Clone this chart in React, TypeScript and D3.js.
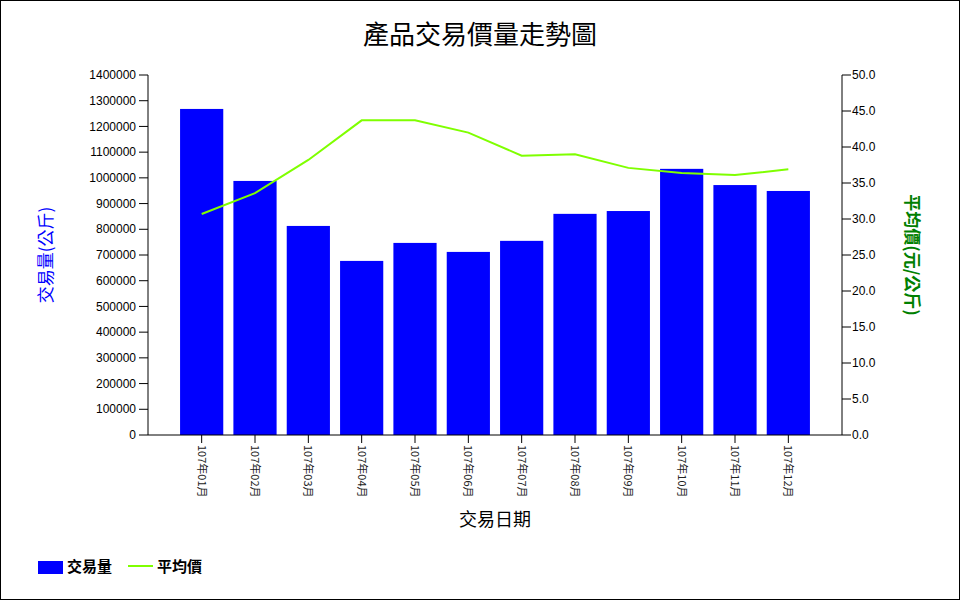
import React from "react";
import * as d3 from "d3";

const months = ["107年01月","107年02月","107年03月","107年04月","107年05月","107年06月","107年07月","107年08月","107年09月","107年10月","107年11月","107年12月"];
const volumes = [1268000, 988000, 813000, 677000, 747000, 712000, 755000, 860000, 871000, 1035000, 972000, 949000];
const prices = [30.7, 33.6, 38.2, 43.7, 43.7, 42.0, 38.8, 39.0, 37.1, 36.4, 36.1, 36.9];
const leftTicks = d3.range(0, 1400001, 100000);
const rightTicks = d3.range(0, 50.01, 5);

const W = 960, H = 600;
const X0 = 148, X1 = 842, Y0 = 435, Y1 = 75;
const FONT = "Arial, 'Liberation Sans', 'Noto Sans CJK TC', sans-serif";
const CJK = "'Noto Sans CJK TC', sans-serif";

export default function App() {
  const x = d3.scaleBand<string>().domain(months).range([X0 + 27, X1 - 27]).paddingInner(0.19).paddingOuter(0.095);
  const yL = d3.scaleLinear().domain([0, 1400000]).range([Y0, Y1]);
  const yR = d3.scaleLinear().domain([0, 50]).range([Y0, Y1]);
  const cx = (m: string) => (x(m) as number) + x.bandwidth() / 2;
  const line = d3.line<number>().x((_, i) => cx(months[i])).y((d) => yR(d));

  return (
    <div style={{ position: "fixed", left: 0, top: 0 }}>
      <svg width={W} height={H} style={{ display: "block", background: "#fff" }}>
        <rect x={0.5} y={0.5} width={W - 1} height={H - 1} fill="#fff" stroke="#000" />
        <text x={480} y={44} textAnchor="middle" fontFamily={CJK} fontSize={26} fill="#000">產品交易價量走勢圖</text>

        {months.map((m, i) => (
          <rect key={m} x={x(m)} y={yL(volumes[i])} width={x.bandwidth()} height={Y0 - yL(volumes[i])} fill="#0000FF" />
        ))}
        <path d={line(prices) || ""} fill="none" stroke="#7FFF00" strokeWidth={2} />

        {/* left axis */}
        <line x1={X0} y1={Y1} x2={X0} y2={Y0} stroke="#000" />
        {leftTicks.map((t) => (
          <g key={t}>
            <line x1={X0 - 9} x2={X0} y1={yL(t)} y2={yL(t)} stroke="#000" />
            <text x={X0 - 12} y={yL(t)} dy="0.35em" textAnchor="end" fontFamily={FONT} fontSize={12} fill="#000">{t}</text>
          </g>
        ))}
        {/* right axis */}
        <line x1={X1} y1={Y1} x2={X1} y2={Y0} stroke="#000" />
        {rightTicks.map((t) => (
          <g key={t}>
            <line x1={X1} x2={X1 + 9} y1={yR(t)} y2={yR(t)} stroke="#000" />
            <text x={X1 + 10} y={yR(t)} dy="0.35em" textAnchor="start" fontFamily={FONT} fontSize={12} fill="#000">{t.toFixed(1)}</text>
          </g>
        ))}
        {/* x axis */}
        <line x1={X0} y1={Y0} x2={X1} y2={Y0} stroke="#000" />
        {months.map((m) => (
          <g key={m}>
            <line x1={cx(m)} x2={cx(m)} y1={Y0} y2={Y0 + 8} stroke="#000" />
            <text transform={`translate(${cx(m)},${Y0 + 10}) rotate(90)`} dy="0.35em" textAnchor="start" fontFamily={CJK} fontSize={11} fill="#222">{m}</text>
          </g>
        ))}

        <text transform="translate(46,255) rotate(-90)" textAnchor="middle" dy="0.35em" fontFamily={CJK} fontSize={17} fill="#0000FF">交易量(公斤)</text>
        <text transform="translate(912,255) rotate(90)" textAnchor="middle" dy="0.35em" fontFamily={CJK} fontSize={17} fontWeight="bold" fill="#008000">平均價(元/公斤)</text>
        <text x={495} y={526} textAnchor="middle" fontFamily={CJK} fontSize={18} fill="#000">交易日期</text>

        {/* legend */}
        <rect x={38} y={561} width={25} height={13} fill="#0000FF" />
        <text x={67} y={567} dy="0.35em" fontFamily={CJK} fontSize={15} fontWeight="bold" fill="#000">交易量</text>
        <line x1={128} x2={153} y1={566} y2={566} stroke="#7FFF00" strokeWidth={2} />
        <text x={157} y={567} dy="0.35em" fontFamily={CJK} fontSize={15} fontWeight="bold" fill="#000">平均價</text>
      </svg>
    </div>
  );
}
